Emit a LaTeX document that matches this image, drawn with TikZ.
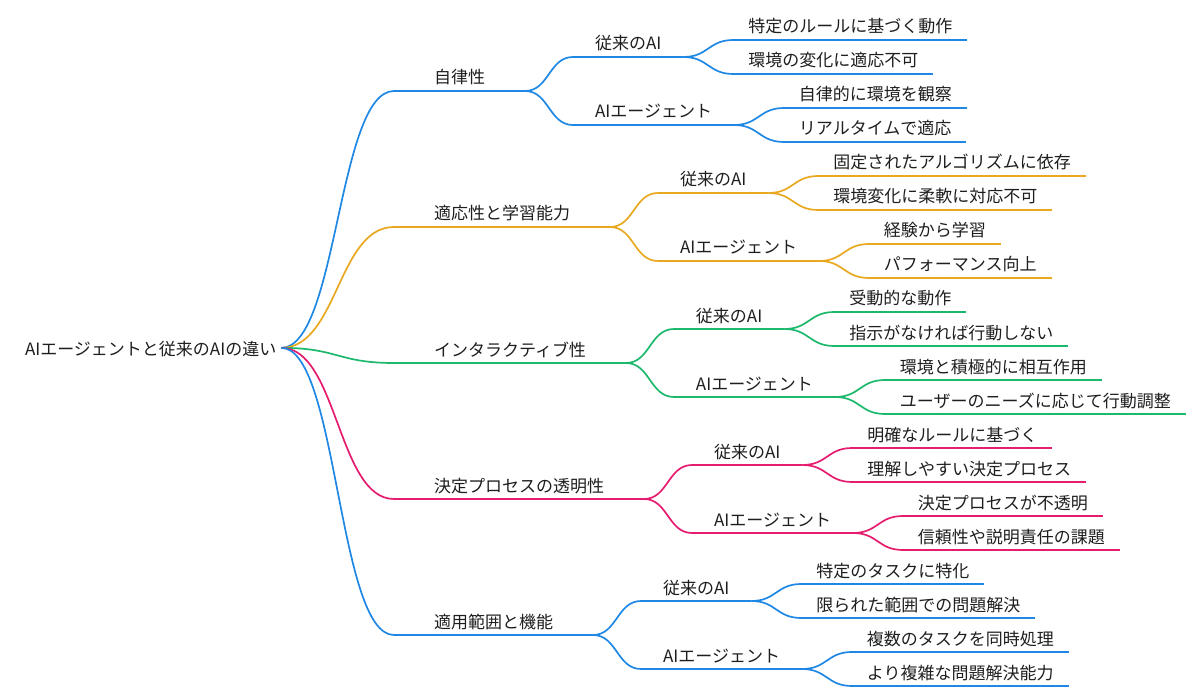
\documentclass[tikz,border=0pt]{standalone}
\usepackage{fontspec}
\setmainfont{Noto Sans CJK JP}
\usetikzlibrary{calc}
\definecolor{cblue}{RGB}{31,136,229}
\definecolor{corange}{RGB}{232,168,32}
\definecolor{cgreen}{RGB}{28,184,108}
\definecolor{cpink}{RGB}{230,28,110}
\definecolor{txt}{RGB}{30,30,30}
\tikzset{
  lbl/.style={font=\fontsize{17}{20}\selectfont, text=txt, text depth=0pt, inner ysep=7pt, outer sep=0pt},
  lone/.style={lbl, inner xsep=40pt},
  ltwo/.style={lbl, inner xsep=22pt},
  leaf/.style={lbl, inner xsep=15pt},
  link/.style={line width=1.7pt},
}
\newcommand\mmlink[3]{\draw[link,#1] let \p1=(#2), \p2=(#3) in (\p1) .. controls ({0.5*(\x1+\x2)},\y1) and ({0.5*(\x1+\x2)},\y2) .. (\p2);}
\newcommand\mmline[2]{\draw[link,#1] (#2.south west) -- (#2.south east);}
\newcommand\mmbranch[8]{%
  \node[lone,anchor=south west] (#1) at (394,#3) {#4};
  \mmline{#2}{#1}
  \mmlink{#2}{rp}{#1.south west}
  \node[ltwo,anchor=south west] (#1a) at ($(#1.south east)+(48,-34)$) {従来のAI};
  \node[ltwo,anchor=south west] (#1b) at ($(#1.south east)+(48,34)$) {AIエージェント};
  \mmline{#2}{#1a}\mmline{#2}{#1b}
  \mmlink{#2}{#1.south east}{#1a.south west}
  \mmlink{#2}{#1.south east}{#1b.south west}
  \node[leaf,anchor=south west] (#1a1) at ($(#1a.south east)+(50,-17)$) {#5};
  \node[leaf,anchor=south west] (#1a2) at ($(#1a.south east)+(50,17)$) {#6};
  \node[leaf,anchor=south west] (#1b1) at ($(#1b.south east)+(50,-17)$) {#7};
  \node[leaf,anchor=south west] (#1b2) at ($(#1b.south east)+(50,17)$) {#8};
  \mmline{#2}{#1a1}\mmline{#2}{#1a2}\mmline{#2}{#1b1}\mmline{#2}{#1b2}
  \mmlink{#2}{#1a.south east}{#1a1.south west}
  \mmlink{#2}{#1a.south east}{#1a2.south west}
  \mmlink{#2}{#1b.south east}{#1b1.south west}
  \mmlink{#2}{#1b.south east}{#1b2.south west}
}
\begin{document}
\begin{tikzpicture}[x=1pt,y=-1pt]
\useasboundingbox (0,0) rectangle (1200,695);
\node[lbl, inner xsep=0pt, anchor=base west] (root) at (25,355) {AIエージェントと従来のAIの違い};
\coordinate (rp) at ($(root.east)+(5,0)$);
\mmbranch{b1}{cblue}{91}{自律性}{特定のルールに基づく動作}{環境の変化に適応不可}{自律的に環境を観察}{リアルタイムで適応}
\mmbranch{b2}{corange}{227}{適応性と学習能力}{固定されたアルゴリズムに依存}{環境変化に柔軟に対応不可}{経験から学習}{パフォーマンス向上}
\mmbranch{b3}{cgreen}{363}{インタラクティブ性}{受動的な動作}{指示がなければ行動しない}{環境と積極的に相互作用}{ユーザーのニーズに応じて行動調整}
\mmbranch{b4}{cpink}{499}{決定プロセスの透明性}{明確なルールに基づく}{理解しやすい決定プロセス}{決定プロセスが不透明}{信頼性や説明責任の課題}
\mmbranch{b5}{cblue}{635}{適用範囲と機能}{特定のタスクに特化}{限られた範囲での問題解決}{複数のタスクを同時処理}{より複雑な問題解決能力}
\end{tikzpicture}
\end{document}
